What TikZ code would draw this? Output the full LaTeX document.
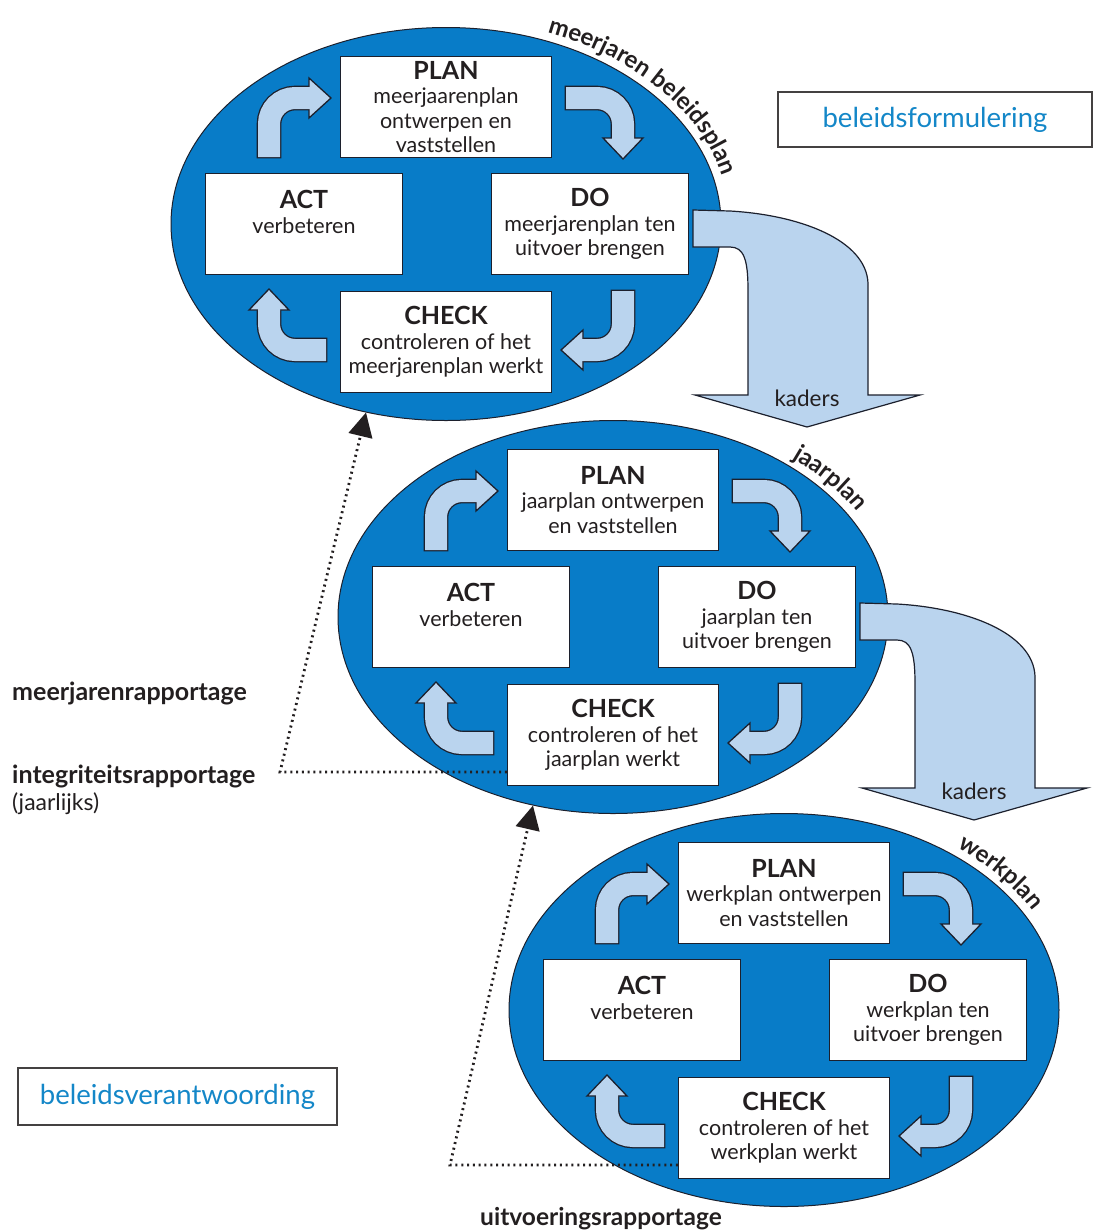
\documentclass[tikz,border=0pt]{standalone}
\usepackage{fontspec}
\setmainfont{Lato}
\usetikzlibrary{positioning,calc,shapes.geometric,arrows.meta,decorations.text}
\definecolor{cycleblue}{RGB}{8,124,200}
\definecolor{arrowblue}{RGB}{186,212,238}
\definecolor{labelblue}{RGB}{20,135,200}
\definecolor{outline}{RGB}{28,32,45}
\definecolor{ink}{RGB}{35,31,32}
\newcommand{\stage}[1]{{\fontsize{25}{24.5}\selectfont\bfseries #1}}
\newcommand{\planfont}{\fontsize{24}{24}\selectfont\bfseries\color{ink}}
% bent arrow: tail, corner, base of head, tip
\newcommand{\bentarrow}[4]{%
  \draw[line width=24.6pt, outline, rounded corners=26pt] ($(#1)!-1.3pt!(#2)$) -- (#2) -- (#3);
  \filldraw[fill=arrowblue, draw=outline, line width=1.3pt, line join=miter]
    ($(#3)!20pt!90:(#4)$) -- (#4) -- ($(#3)!20pt!-90:(#4)$) -- cycle;
  \draw[line width=22pt, arrowblue, rounded corners=26pt] (#1) -- (#2) -- ($(#3)!2pt!(#4)$);
}
% one plan-do-check-act ellipse
\newcommand{\pdcacycle}[8]{%
  \begin{scope}[shift={(#2)}]
    \node[pdcaellipse] (#1) at (0,0) {};
    \node[pdcabox, minimum width=211pt] (#1plan) at (0,117) {\stage{PLAN}\\#3};
    \node[pdcabox, minimum width=197pt] (#1act) at (-142,0) {\stage{ACT}\\verbeteren\\\mbox{}};
    \node[pdcabox, minimum width=197pt] (#1do) at (144,0) {\stage{DO}\\#4};
    \node[pdcabox, minimum width=211pt] (#1check) at (0,-118) {\stage{CHECK}\\#5};
    \bentarrow{-177,67}{-177,126}{-137,126}{-115,126}
    \bentarrow{120,126}{177,126}{177,86}{177,65}
    \bentarrow{177,-67}{177,-126}{137,-126}{115,-126}
    \bentarrow{-120,-126}{-177,-126}{-177,-86}{-177,-65}
    \path[decorate, decoration={text along path, text align=center, text={|\planfont|#6}}]
      (#7:284 and 205) arc[start angle=#7, end angle=#8, x radius=284, y radius=205];
  \end{scope}}
% big arrow down to the next plan
\newcommand{\kaders}[1]{%
  \begin{scope}[shift={(#1.center)}]
    \draw[kaderarrow] (247,14) -- (284,13) .. controls (354,9) and (420,-16) .. (422,-59)
      -- (422,-171) -- (474,-171) -- (361,-203) -- (249,-171) -- (302,-171) -- (302,-66)
      .. controls (302,-36) and (298,-23) .. (284,-23) -- (247,-23) -- cycle;
    \node[kadertext] (#1kaders) at (361,-174) {kaders};
  \end{scope}}

\begin{document}
\begin{tikzpicture}[x=1pt, y=1pt,
    pdcaellipse/.style={ellipse, draw=outline, fill=cycleblue, line width=1pt,
      minimum width=550pt, minimum height=393pt, inner sep=0pt},
    pdcabox/.style={draw=outline, fill=white, line width=1.3pt, minimum height=101pt,
      align=center, inner sep=0pt, text=ink, font=\fontsize{21.5}{24.5}\selectfont},
    kaderarrow/.style={fill=arrowblue, draw=outline, line width=1.2pt},
    kadertext/.style={text=ink, font=\fontsize{22.5}{24}\selectfont},
    namebox/.style={draw=ink!85, line width=2pt, fill=white, text=labelblue,
      font=\fontsize{27.5}{30}\selectfont},
    sidelabel/.style={text=ink, font=\fontsize{23}{26}\selectfont, inner sep=0pt},
    report/.style={line width=2.8pt, dash pattern=on 2pt off 3.8pt, ink,
      -{Triangle[length=24pt, width=24pt]}}]
  \useasboundingbox (0,0) rectangle (1093,-1232);
  % meerjaren
  \pdcacycle{e1}{446,-224}{meerjaarenplan\\ontwerpen en\\vaststellen}%
    {meerjarenplan ten\\uitvoer brengen}{controleren of het\\meerjarenplan werkt}%
    {meerjaren beleidsplan}{77}{3}
  \kaders{e1}
  % jaarplan
  \pdcacycle{e2}{613,-617}{jaarplan ontwerpen\\en vaststellen}%
    {jaarplan ten\\uitvoer brengen}{controleren of het\\jaarplan werkt}%
    {jaarplan}{60}{20}
  \kaders{e2}
  % werkplan
  \pdcacycle{e3}{784,-1010}{werkplan ontwerpen\\en vaststellen}%
    {werkplan ten\\uitvoer brengen}{controleren of het\\werkplan werkt}%
    {werkplan}{60}{20}
  % reports
  \coordinate (jaarcorner) at (280,-772);
  \draw[report] (jaarcorner -| e2check.west) -- (jaarcorner) -- (e1.247);
  \coordinate (werkcorner) at (450,-1165);
  \draw[report] (werkcorner -| e3check.west) -- (werkcorner) -- (e2.247);
  % labels
  \node[namebox, minimum width=314pt, minimum height=55pt] (formulering) at (935,-119.5) {beleidsformulering};
  \node[namebox, minimum width=319pt, minimum height=57pt] (verantwoording) at (177.5,-1096.5) {beleidsverantwoording};
  \node[sidelabel, anchor=base west] (meerjarenrap) at (12,-700) {\fontsize{25}{28}\selectfont\bfseries meerjarenrapportage};
  \node[sidelabel, anchor=base west] (integriteitsrap) at (12,-783) {\fontsize{25}{28}\selectfont\bfseries integriteitsrapportage};
  \node[sidelabel, anchor=base west] (jaarlijks) at (12,-810) {(jaarlijks)};
  \node[sidelabel, anchor=base] (uitvoeringsrap) at (601,-1225) {\fontsize{24.5}{28}\selectfont\bfseries uitvoeringsrapportage};
\end{tikzpicture}
\end{document}
